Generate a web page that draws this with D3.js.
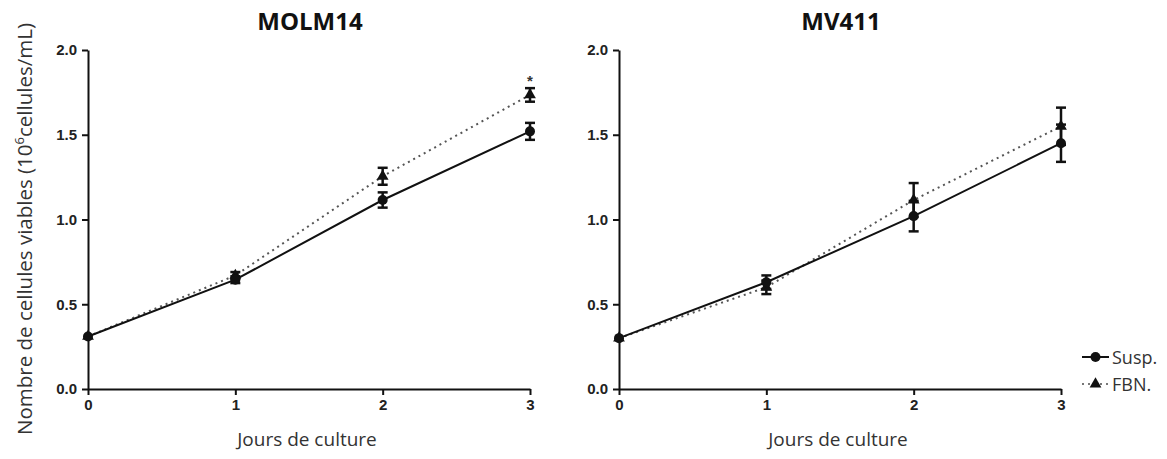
<!DOCTYPE html>
<html>
<head>
<meta charset="utf-8">
<script src="https://cdn.jsdelivr.net/npm/d3@7"></script>
<style>
  body { margin: 0; background: #fff; }
  svg { display: block; }
</style>
</head>
<body>
<div id="chart"></div>
<script>
// Données
const days = [0, 1, 2, 3];
const panels = ["MOLM14", "MV411"];
const suspMolm = [0.31, 0.645, 1.115, 1.52];
const suspMolmErr = [0.01, 0.02, 0.045, 0.05];
const fbnMolm = [0.31, 0.67, 1.255, 1.735];
const fbnMolmErr = [0.01, 0.02, 0.05, 0.04];
const suspMv = [0.30, 0.63, 1.02, 1.45];
const suspMvErr = [0.01, 0.04, 0.09, 0.11];
const fbnMv = [0.30, 0.60, 1.115, 1.55];
const fbnMvErr = [0.01, 0.04, 0.10, 0.11];
const yTicks = [0, 0.5, 1.0, 1.5, 2.0];
const seriesNames = ["Susp.", "FBN."];

const width = 1167, height = 459;
const svg = d3.select("#chart").append("svg")
    .attr("width", width).attr("height", height);

const y = d3.scaleLinear().domain([0, 2]).range([389, 50]);

const panelData = [
  { title: panels[0], x0: 88, susp: suspMolm, suspErr: suspMolmErr, fbn: fbnMolm, fbnErr: fbnMolmErr, star: true },
  { title: panels[1], x0: 619, susp: suspMv, suspErr: suspMvErr, fbn: fbnMv, fbnErr: fbnMvErr, star: false }
];

const tri = d3.symbol().type(d3.symbolTriangle).size(60);

panelData.forEach(p => {
  const x = d3.scaleLinear().domain([0, 3]).range([p.x0, p.x0 + 442]);
  const g = svg.append("g");

  // Axes
  const yAxis = g.append("g").attr("transform", `translate(${p.x0},0)`)
      .call(d3.axisLeft(y).tickValues(yTicks).tickFormat(d3.format(".1f"))
        .tickSize(6).tickPadding(5).tickSizeOuter(0));
  const xAxis = g.append("g").attr("transform", `translate(0,389)`)
      .call(d3.axisBottom(x).tickValues(days).tickFormat(d3.format("d"))
        .tickSize(6).tickPadding(4).tickSizeOuter(0));
  [yAxis, xAxis].forEach(a => {
    a.select(".domain").attr("stroke", "#111").attr("stroke-width", 2);
    a.selectAll(".tick line").attr("stroke", "#111").attr("stroke-width", 2);
    a.selectAll("text").attr("font-family", "Liberation Sans, Arial, sans-serif")
      .attr("font-size", 15).attr("font-weight", "bold").attr("fill", "#222");
  });

  const line = d3.line().x((d, i) => x(days[i])).y(d => y(d));

  // FBN (pointillé)
  g.append("path").datum(p.fbn).attr("d", line)
    .attr("fill", "none").attr("stroke", "#555").attr("stroke-width", 2)
    .attr("stroke-dasharray", "2,4");
  // Susp (continu)
  g.append("path").datum(p.susp).attr("d", line)
    .attr("fill", "none").attr("stroke", "#111").attr("stroke-width", 2);

  // Barres d'erreur
  const drawErr = (vals, errs) => {
    vals.forEach((v, i) => {
      const cx = x(days[i]);
      const eg = g.append("g").attr("stroke", "#111").attr("stroke-width", 2.5);
      eg.append("line").attr("x1", cx).attr("x2", cx).attr("y1", y(v - errs[i])).attr("y2", y(v + errs[i]));
      if (errs[i] > 0.015) {
        [v - errs[i], v + errs[i]].forEach(e => {
          eg.append("line").attr("x1", cx - 5).attr("x2", cx + 5).attr("y1", y(e)).attr("y2", y(e));
        });
      }
    });
  };
  drawErr(p.fbn, p.fbnErr);
  drawErr(p.susp, p.suspErr);

  // Marqueurs
  g.selectAll(".tri").data(p.fbn).enter().append("path")
    .attr("d", tri).attr("fill", "#111")
    .attr("transform", (d, i) => `translate(${x(days[i])},${y(d)})`);
  g.selectAll(".dot").data(p.susp).enter().append("circle")
    .attr("cx", (d, i) => x(days[i])).attr("cy", d => y(d)).attr("r", 5).attr("fill", "#111");

  if (p.star) {
    const last = p.fbn.length - 1;
    g.append("text").attr("x", x(days[last])).attr("y", y(p.fbn[last] + p.fbnErr[last]) - 2)
      .attr("text-anchor", "middle").attr("font-family", "Liberation Sans, Arial, sans-serif")
      .attr("font-size", 15).attr("font-weight", "bold").attr("fill", "#333").text("*");
  }

  // Titre
  g.append("text").attr("x", p.x0 + 222).attr("y", 30).attr("text-anchor", "middle")
    .attr("font-family", "Open Sans, Liberation Sans, sans-serif").attr("font-size", 24)
    .attr("font-weight", "bold").attr("fill", "#111").text(p.title);

  // Titre axe x
  g.append("text").attr("x", p.x0 + 219).attr("y", 446).attr("text-anchor", "middle")
    .attr("font-family", "Open Sans, Liberation Sans, sans-serif").attr("font-size", 19)
    .attr("fill", "#333").text("Jours de culture");
});

// Titre axe y
const yl = svg.append("text")
  .attr("transform", "translate(32,229) rotate(-90)")
  .attr("text-anchor", "middle")
  .attr("font-family", "Open Sans, Liberation Sans, sans-serif").attr("font-size", 20.5)
  .attr("fill", "#333");
yl.append("tspan").text("Nombre de cellules viables (10");
yl.append("tspan").attr("dy", -8).attr("font-size", 13).text("6");
yl.append("tspan").attr("dy", 8).text("cellules/mL)");

// Légende
const leg = svg.append("g").attr("transform", "translate(1082,357)");
seriesNames.forEach((name, i) => {
  const ly = i * 27;
  const row = leg.append("g").attr("transform", `translate(0,${ly})`);
  row.append("line").attr("x1", 0).attr("x2", 27).attr("y1", 0).attr("y2", 0)
    .attr("stroke", i === 0 ? "#111" : "#777").attr("stroke-width", 2)
    .attr("stroke-dasharray", i === 0 ? null : "2,4");
  if (i === 0) {
    row.append("circle").attr("cx", 13.5).attr("cy", 0).attr("r", 5).attr("fill", "#111");
  } else {
    row.append("path").attr("d", tri).attr("fill", "#111").attr("transform", "translate(13.5,0)");
  }
  row.append("text").attr("x", 30).attr("y", 6.5)
    .attr("font-family", "Open Sans, Liberation Sans, sans-serif").attr("font-size", 18)
    .attr("fill", "#333").text(name);
});
</script>
</body>
</html>
